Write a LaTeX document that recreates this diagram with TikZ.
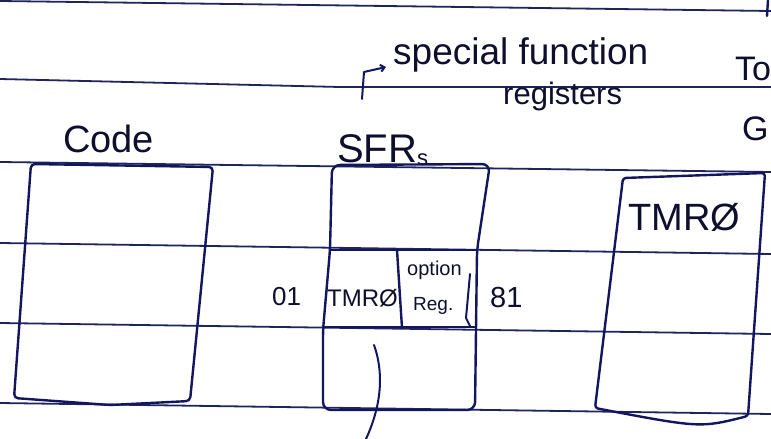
\documentclass[tikz,border=0pt]{standalone}
\usepackage{fontspec}
\setmainfont{Liberation Sans}
\usetikzlibrary{arrows.meta}
\definecolor{ink}{RGB}{18,22,95}
\definecolor{rulecol}{RGB}{32,36,92}
\definecolor{txt}{RGB}{14,14,45}
\newcommand{\fsz}[1]{\fontsize{#1}{#1}\selectfont}
\begin{document}
\begin{tikzpicture}[x=1pt,y=-1pt,
  ruled/.style={rulecol, line width=1.8pt},
  pen/.style={ink, line width=2.4pt, line join=round, line cap=round},
  hand/.style={txt, inner sep=0pt, anchor=base west}]
\useasboundingbox (0,0) rectangle (771,439);
\clip (0,0) rectangle (771,439);
\fill[white] (0,0) rectangle (771,439);
% ruled notebook lines
\draw[ruled] (0,1) -- (771,11);
\draw[ruled] (0,79) -- (340,87) -- (771,87);
\draw[ruled] (0,162) -- (771,172);
\draw[ruled] (0,243) -- (771,254);
\draw[ruled] (0,323) -- (771,334);
\draw[ruled] (0,403) -- (771,414);
\draw[pen] (768,0) -- (767,16);
% labels at the top
\node[hand, font=\fsz{38}] (code) at (63,152) {Code};
\node[hand, font=\fsz{40}] (sfr) at (337,162) {SFR\raisebox{-3pt}{\fsz{22}s}};
\node[hand, font=\fsz{37}] (sf) at (393,64) {special function};
\node[hand, font=\fsz{31}] (reg) at (503,104) {registers};
\node[hand, font=\fsz{34}] (to) at (735,80) {To};
\node[hand, font=\fsz{34}] (g) at (742,140) {G};
\coordinate (arrs) at (362,99);
\draw[pen, line width=2pt, -{Straight Barb[length=4pt,width=7pt]}] (arrs) -- (364,72) -- ([xshift=-7pt,yshift=-3pt]sf.base west);
% Code box
\draw[pen, rounded corners=4] (31,164) -- (213,167) -- (190,401) -- (110,405) -- (14,398) -- cycle;
% SFR box
\draw[pen, rounded corners=8] (332,165) -- (330,250) -- (323,330) -- (323,410) -- (475,410) -- (477,250) -- (490,164) -- cycle;
\draw[pen] (330,250) -- (477,250);
\draw[pen] (323,327) -- (476,327);
\draw[pen] (397,250) -- (402,328);
\draw[pen, line width=2pt] (470,274) -- (466,318) -- (470,326);
\node[hand, font=\fsz{26}] (n01) at (272,305) {01};
\node[hand, font=\fsz{24}] (tmr) at (327,306) {TMRØ};
\node[hand, font=\fsz{20}] (opt) at (407,275) {option};
\node[hand, font=\fsz{19}] (optreg) at (413,310) {Reg.};
\node[hand, font=\fsz{29}] (n81) at (490,307) {81};
\draw[pen, line width=2pt] (374,345) .. controls (383,370) and (383,402) .. (366,439);
% TMR0 box on the right
\draw[pen, rounded corners=3] (623,178) -- (765,173) -- (748,416) .. controls (700,428) .. (595,408) -- cycle;
\node[hand, font=\fsz{38}] (tmrr) at (628,230) {TMRØ};
\end{tikzpicture}
\end{document}
